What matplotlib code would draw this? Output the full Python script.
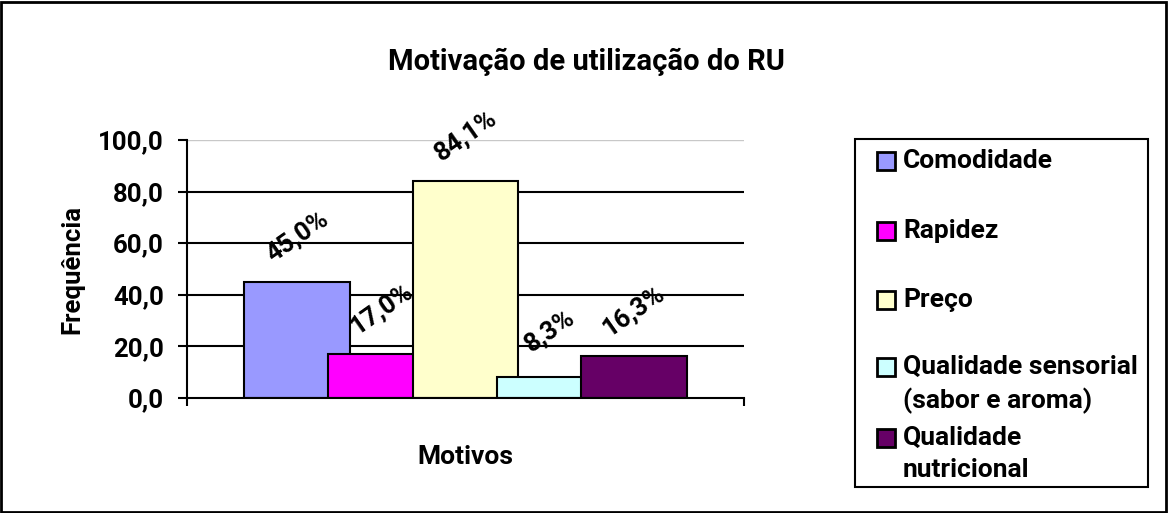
import numpy as np
import matplotlib.pyplot as plt
from matplotlib.patches import Rectangle

plt.rcParams['font.family'] = ['Roboto', 'DejaVu Sans']
plt.rcParams['font.weight'] = 'bold'

categorias = ['Comodidade', 'Rapidez', 'Preço', 'Qualidade sensorial\n(sabor e aroma)', 'Qualidade\nnutricional']
valores = [45.0, 17.0, 84.1, 8.3, 16.3]
rotulos = ['45,0%', '17,0%', '84,1%', '8,3%', '16,3%']
cores = ['#9999FF', '#FF00FF', '#FFFFCC', '#CCFFFF', '#660066']
yticks = [0, 20, 40, 60, 80, 100]

fig = plt.figure(figsize=(11.68, 5.13), dpi=100)
ax = fig.add_axes([187 / 1168, 1 - 398 / 513, (744 - 187) / 1168, (398 - 140) / 513])

# Excel style overlapping bars
passo = 0.151
largura = 0.19
n = len(valores)
pos = (np.arange(n) - (n - 1) / 2) * passo
for i in range(n):
    ax.bar(pos[i], valores[i], width=largura, color=cores[i], edgecolor='black',
           linewidth=1.5, zorder=3 + i)
    ax.annotate(rotulos[i], (pos[i], valores[i]), xytext=(0, 33), textcoords='offset points',
                ha='center', va='center', rotation=35, fontsize=18.5, fontweight='bold',
                zorder=20)

ax.set_xlim(-0.5, 0.5)
ax.set_ylim(0, 100)
ax.set_yticks(yticks)
ax.set_yticklabels([f'{v:.1f}'.replace('.', ',') for v in yticks], fontsize=18.5, fontweight='bold')
ax.set_xticks([-0.5, 0.5])
ax.set_xticklabels(['', ''])
ax.tick_params(axis='y', direction='out', length=6.5, width=1.5, pad=10)
ax.tick_params(axis='x', direction='out', length=6, width=1.5)
for v in yticks[1:-1]:
    ax.axhline(v, color='black', linewidth=1.5, zorder=1)
ax.axhline(100, color='#c8c8c8', linewidth=1, zorder=1)
for s in ['top', 'right']:
    ax.spines[s].set_visible(False)
for s in ['left', 'bottom']:
    ax.spines[s].set_linewidth(1.5)
    ax.spines[s].set_zorder(30)

ax.set_ylabel('Frequência', fontsize=18.5, fontweight='bold', labelpad=10)
ax.set_xlabel('Motivos', fontsize=19, fontweight='bold', labelpad=24)

fig.text(586 / 1168, 1 - 62 / 513, 'Motivação de utilização do RU', ha='center', va='center',
         fontsize=21, fontweight='bold')

# legend box drawn by hand
fig.patches.append(Rectangle((855 / 1168, 1 - 487 / 513), (1148 - 855) / 1168, (487 - 139) / 513,
                             transform=fig.transFigure, facecolor='white', edgecolor='black',
                             linewidth=1.5))
leg_y = [161, 231, 300, 367, 438]
for i in range(n):
    y = 1 - leg_y[i] / 513
    fig.patches.append(Rectangle((877 / 1168, y - 9 / 513), 18 / 1168, 18 / 513,
                                 transform=fig.transFigure, facecolor=cores[i],
                                 edgecolor='black', linewidth=2))
    fig.text(903 / 1168, y + 12 / 513, categorias[i], ha='left', va='top', fontsize=19,
             fontweight='bold', linespacing=1.4)

# outer border
fig.patches.append(Rectangle((0.001, 0.002), 0.997, 0.995, transform=fig.transFigure,
                             facecolor='none', edgecolor='black', linewidth=2))

fig.savefig('out.png', dpi=100)
